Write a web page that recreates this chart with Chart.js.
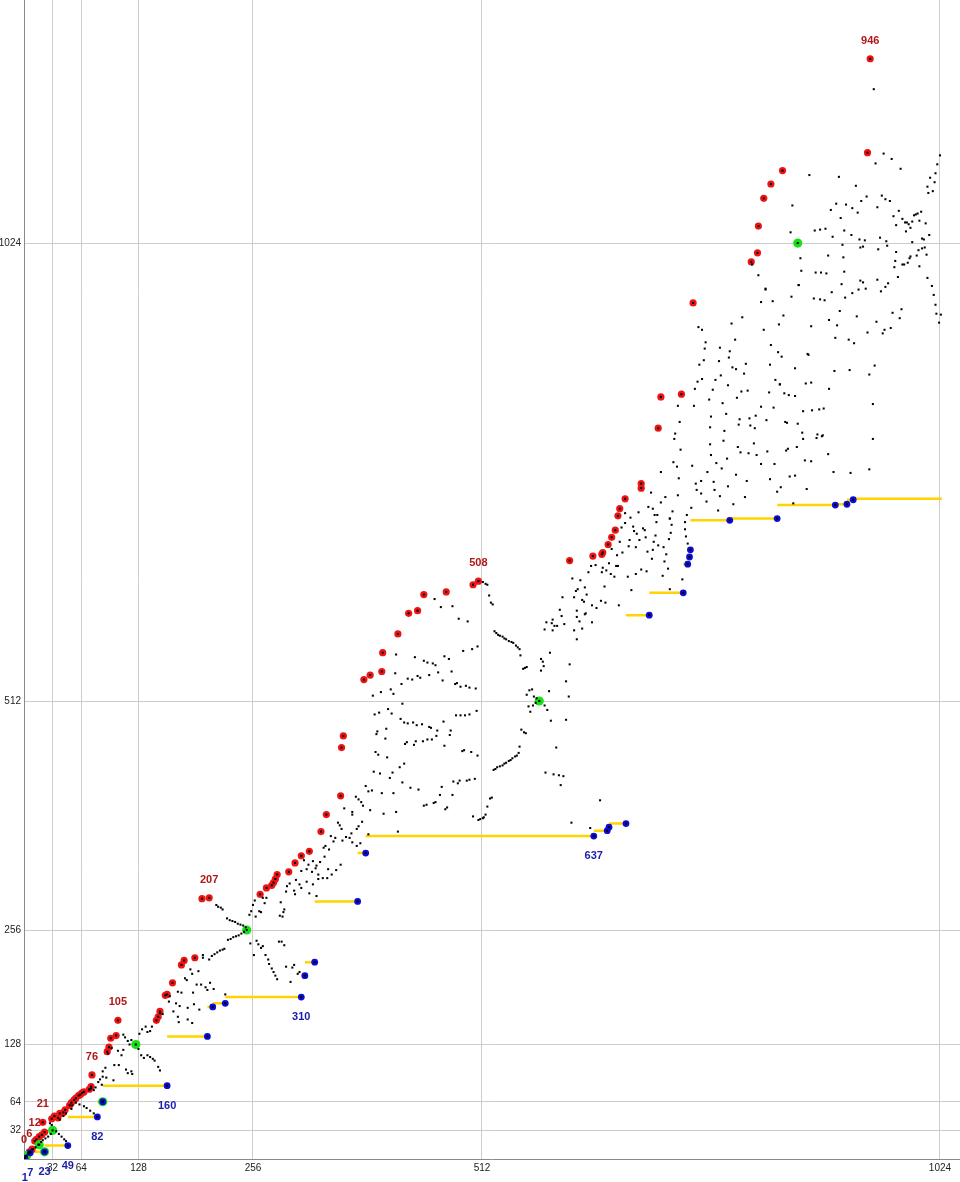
<!DOCTYPE html>
<html>
<head>
<meta charset="utf-8">
<script src="https://cdn.jsdelivr.net/npm/chart.js@4.4.1/dist/chart.umd.min.js"></script>
<style>
  html, body { margin: 0; padding: 0; background: #fff; }
  #wrap { width: 960px; height: 1182px; }
</style>
</head>
<body>
<div id="wrap"><canvas id="chart" width="960" height="1182"></canvas></div>
<script>
const tickValues = [32, 64, 128, 256, 512, 1024];

// labelled points (label = x value)
const redLabels = [0, 6, 12, 21, 76, 105, 207, 508, 946];
const blueLabels = [1, 7, 23, 49, 82, 160, 310, 637];

// red: high points
const redPts = [[0,1],[2,3],[6,8],[9,11],[12,20],[14,22],[17,25],[20,27],[21,41],[23,30],[31,45],[34,48],[38,46],[40,51],[44,52],[46,55],[51,60],[53,63],[56,66],[58,68],[61,71],[63,72],[65,74],[67,75],[73,78],[75,81],[76,94],[93,120],[95,125],[97,135],[103,138],[105,155],[148,155],[150,159],[152,165],[158,183],[160,184],[166,197],[176,217],[179,222],[191,225],[199,291],[207,292],[264,296],[271,303],[277,306],[279,309],[281,313],[283,318],[296,321],[303,331],[310,339],[319,344],[332,366],[338,385],[354,406],[355,460],[357,473],[380,536],[387,541],[400,545],[401,566],[418,587],[430,610],[440,613],[447,631],[472,634],[502,642],[508,646],[610,669],[636,674],[646,676],[647,678],[653,687],[657,695],[661,703],[664,719],[666,727],[672,738],[690,750],[690,755],[709,817],[712,852],[735,855],[748,957],[813,1003],[820,1013],[821,1043],[827,1074],[835,1090],[848,1105],[943,1125],[946,1230]];

// blue: low points
const bluePts = [[1,1],[7,7],[23,8],[49,15],[82,47],[88,64],[160,82],[205,137],[211,170],[225,174],[310,181],[314,205],[325,220],[373,288],[382,342],[637,361],[652,367],[654,371],[673,375],[699,608],[737,633],[742,665],[744,673],[745,681],[789,714],[842,716],[907,731],[920,732],[927,737]];
const yellowEnd = [1026, 738];

// green: values that are powers of two
const greenPts = [[3,4],[17,16],[32,32],[23,8],[88,64],[125,128],[249,256],[576,512],[865,1024]];

// black: all other values
const blackPts = [
[5,6],[7,8],[10,11],[13,13],[16,16],[19,19],[21,21],[24,23],[27,25],[30,28],[29,40],[31,38],[36,31],[39,28],[42,25],[45,22],[47,20],[40,44],[44,48],[47,51],[53,56],[54,60],[58,63],[62,61],[67,59],[70,57],[74,54],[78,51],
[186,212],[188,207],[195,210],[180,202],[182,200],[193,195],[198,195],[203,192],[205,189],[212,190],[208,197],[225,184],[172,187],[176,186],[189,186],[163,182],[162,176],[170,174],[174,171],[183,169],[190,173],[196,167],[167,165],[172,159],[173,153],[183,156],[188,152],[155,162],[152,163],[143,148],[141,143],[138,142],[136,148],[132,145],[129,140],[111,139],[113,136],[116,132],[120,133],[118,128],[128,123],[111,122],[105,121],[98,124],[94,118],[109,116],[131,116],[134,113],[138,116],[141,114],[144,112],[146,110],[150,103],[152,99],[101,105],[106,105],[91,102],[88,98],[114,100],[116,96],[120,98],[121,95],[88,92],[85,89],[83,86],[87,83],[92,91],[100,88],[80,80],[78,77],[73,77],[75,79],
[313,334],[318,329],[323,333],[327,328],[331,332],[310,322],[316,324],[322,321],[326,325],[329,318],[334,314],[340,324],[344,318],[349,323],[354,329],[339,314],[304,312],[308,307],[316,310],[323,307],[329,313],[294,305],[293,299],[302,300],[303,296],[297,308],[327,294],[319,297],[310,303],[287,287],[290,276],[291,279],[286,272],[289,271],[269,286],[271,292],[267,292],[258,289],[256,284],[254,277],[252,273],[259,271],[263,277],[265,276],
[215,284],[217,282],[220,281],[222,279],[227,269],[230,267],[233,266],[236,265],[239,263],[242,262],[245,261],[248,259],[228,245],[231,246],[234,248],[237,249],[240,250],[243,252],[246,254],[213,229],[216,231],[219,233],[222,234],[224,235],[200,228],[200,225],[207,223],[210,227],
[253,241],[260,244],[262,240],[265,236],[267,238],[257,228],[270,228],[273,223],[274,218],[277,213],[279,209],[281,205],[283,201],[285,243],[288,243],[291,239],[293,215],[302,217],[300,214],[306,207],[308,209],[298,198],
[513,645],[516,643],[518,642],[520,630],[522,622],[524,620],[526,590],[528,588],[530,586],[459,626],[466,617],[479,618],[486,604],[496,601],[491,568],[501,570],[507,573],[437,561],[447,557],[451,555],[457,554],[460,552],[470,562],[475,559],[416,564],[463,544],[478,545],[415,543],[422,531],[429,537],[434,536],[440,540],[443,538],[453,541],[468,535],[482,531],[484,532],[488,528],[494,529],[498,527],[505,526],[410,525],[413,520],[399,522],[390,518],[423,509],[407,503],[411,498],[397,499],[392,497],[421,492],[425,488],[429,487],[435,488],[439,485],[445,486],[453,483],[455,482],[462,479],[469,489],[477,479],[476,474],[461,473],[456,469],[451,469],[446,467],[438,467],[436,463],[428,466],[426,464],[405,481],[395,478],[394,475],[404,470],[470,462],[490,456],[492,457],[500,455],[507,451],[483,496],[488,496],[493,496],[498,497],[506,501],[393,455],[396,452],[406,449],[425,442],[420,438],[412,432],[391,433],[398,431],[409,426],[423,421],[432,415],[441,413],[467,416],[480,422],[485,420],[487,423],[495,423],[498,424],[504,425],[389,412],[385,411],[382,417],[400,409],[413,409],[371,405],[374,402],[377,399],[379,395],[358,392],[367,388],[367,385],[387,390],[402,386],[416,388],[447,395],[450,396],[458,398],[460,399],[465,407],[479,407],[471,391],[473,393],[502,383],[508,379],[510,380],[513,381],[514,382],[516,385],[518,394],[521,403],[523,404],[525,435],[527,436],[529,438],[378,377],[374,372],[372,369],[366,364],[364,359],[367,354],[372,350],[376,353],[418,366],[385,363],[351,376],[353,373],[355,369],[343,361],[348,359],[346,355],[360,360],[356,356],[337,350],[335,348],[341,346],[336,338],
[532,585],[535,584],[537,582],[539,581],[542,579],[545,578],[547,577],[550,574],[552,572],[554,570],[555,563],[558,548],[560,549],[562,550],[578,559],[580,556],[581,551],[578,546],[565,524],[568,525],[562,519],[570,517],[573,515],[572,510],[569,507],[564,506],[566,500],[582,507],[585,502],[587,523],[589,490],[556,480],[559,477],[561,476],[554,461],[553,454],[551,451],[549,450],[546,448],[544,446],[542,445],[539,443],[537,442],[535,440],[532,439],[595,460],[583,432],[592,430],[598,429],[603,428],[600,418],[606,491],[609,517],[612,376],[633,370],[644,401],[606,534],[588,566],[610,553],[584,600],[590,599],[591,603],[593,596],[596,596],[591,591],[582,592],
[687,723],[678,717],[672,722],[672,711],[668,706],[681,707],[682,702],[685,699],[688,692],[677,692],[666,690],[676,685],[684,684],[669,678],[663,675],[662,663],[657,682],[654,666],[647,661],[639,664],[634,663],[631,656],[646,656],[651,658],[656,654],[660,651],[664,663],[675,651],[679,636],[684,654],[690,659],[613,649],[622,647],[627,639],[617,635],[619,637],[629,631],[615,628],[624,625],[626,623],[635,619],[640,616],[645,624],[650,622],[649,640],[665,619],[602,628],[599,614],[601,607],[618,613],[628,610],[627,609],[618,606],[621,601],[635,600],[604,598],[615,591],[624,593],[618,581],[692,705],[694,703],[695,695],[697,679],[703,681],[702,671],[704,690],[706,697],[709,686],[715,684],[707,712],[722,716],[724,709],[723,700],[721,693],[718,676],[716,668],[720,660],[714,652],[696,657],[739,712],[739,704],[740,696],[742,688],[736,648],[722,637],
[829,972],[824,958],[837,959],[803,941],[791,934],[754,930],[758,927],[827,927],[844,933],[795,916],[762,913],[761,906],[778,907],[835,910],[789,903],[788,896],[843,902],[760,893],[755,888],[777,892],[807,889],[834,888],[792,885],[796,883],[805,878],[779,876],[758,872],[753,869],[773,871],[840,871],[845,866],[787,865],[750,861],[770,860],[802,858],[809,859],[833,857],[797,851],[766,849],[731,842],[749,842],[781,845],[824,841],[838,840],[768,830],[785,833],[818,831],[800,827],[811,828],[830,826],[733,824],[767,818],[799,821],[812,820],[817,817],[783,814],[728,811],[727,805],[782,803],[816,800],[767,799],[798,796],[801,790],[810,789],[819,787],[831,791],[768,787],[734,793],[726,779],[730,774],[747,775],[774,778],[786,783],[780,772],[824,777],[839,777],[712,768],[732,761],[764,768],[796,765],[757,758],[751,755],[771,757],[808,758],[834,760],[752,748],[772,748],[787,752],[757,744],[731,742],[701,745],[717,740],[778,741],[806,740],[842,746],[712,734],[698,729],[703,727],[746,728],[763,735],[793,732],[725,724],[705,720],[708,720],[722,716],[741,720],[776,725],
[961,1124],[970,1118],[952,1113],[980,1107],[1024,1122],[1021,1112],[1019,1102],[1018,1092],[1013,1097],[1010,1087],[1016,1082],[1011,1080],[878,1100],[911,1098],[930,1088],[942,1076],[959,1077],[963,1073],[968,1071],[936,1071],[908,1068],[919,1067],[926,1063],[932,1058],[902,1061],[913,1052],[954,1064],[978,1060],[972,1054],[975,1044],[982,1051],[985,1047],[987,1047],[989,1045],[993,1048],[995,1055],[997,1056],[999,1057],[1003,1059],[1001,1049],[1008,1046],[991,1041],[986,1037],[1012,1033],[859,1066],[857,1036],[884,1038],[890,1039],[896,1040],[904,1031],[917,1038],[925,1033],[934,1028],[940,1027],[957,1030],[964,1026],[965,1021],[955,1017],[935,1019],[938,1020],[915,1022],[1004,1029],[1006,1028],[993,1025],[1007,1019],[1004,1018],[1000,1016],[998,1010],[991,1009],[990,1007],[988,1002],[984,1000],[982,1000],[1009,1011],[975,1014],[974,1004],[973,997],[977,986],[1001,998],[1010,985],[1015,976],[1017,966],[1019,955],[1020,945],[1023,935],[1025,944],[868,1007],[869,993],[899,1010],[916,1008],[917,992],[885,991],[891,991],[897,990],[866,977],[858,964],[883,962],[890,961],[895,960],[903,969],[914,978],[935,982],[938,980],[941,973],[933,972],[926,968],[918,963],[954,983],[966,979],[963,975],[958,970],[912,948],[900,938],[909,932],[849,943],[880,931],[931,942],[953,936],[943,924],[960,923],[962,927],[969,929],[971,946],[979,940],[981,950],[907,918],[922,916],[928,912],[847,897],[876,900],[877,899],[862,884],[906,881],[923,882],[951,887],[945,877],[845,866],[874,867],[880,868],[900,861],[850,856],[855,854],[862,853],[871,836],[881,837],[889,838],[894,839],[851,824],[853,823],[865,822],[870,812],[871,805],[887,810],[886,806],[892,808],[893,809],[949,844],[949,805],[852,792],[854,794],[864,796],[899,788],[873,781],[880,780],[856,763],[862,764],[905,768],[924,767],[945,771],[846,751],[875,749],[860,733],
[950,1196],[814,1000],[821,988],[829,973],[866,977]
];

const toXY = (p) => ({ x: p[0], y: p[1] });

// every value gets a black mark, coloured marks sit beneath
const blackData = blackPts.concat(redPts, bluePts, greenPts).map(toXY);

// yellow runs from the previous low point to the next one
const yellowData = [];
for (let i = 1; i < bluePts.length; i++) {
    yellowData.push({ x: bluePts[i - 1][0], y: bluePts[i][1] });
    yellowData.push({ x: bluePts[i][0], y: bluePts[i][1] });
    yellowData.push({ x: bluePts[i][0], y: null });
}
const lastBlue = bluePts[bluePts.length - 1];
yellowData.push({ x: lastBlue[0], y: yellowEnd[1] });
yellowData.push({ x: yellowEnd[0], y: yellowEnd[1] });

const pointLabels = {
    id: 'pointLabels',
    afterDatasetsDraw(chart) {
        const ctx = chart.ctx;
        ctx.save();
        ctx.font = 'bold 11px "Liberation Sans", Arial, sans-serif';
        ctx.textAlign = 'center';
        ctx.textBaseline = 'middle';
        const draw = (dsIndex, pts, labels, color, dy) => {
            const meta = chart.getDatasetMeta(dsIndex);
            ctx.fillStyle = color;
            pts.forEach((p, i) => {
                if (labels.includes(p[0])) {
                    const el = meta.data[i];
                    ctx.fillText(String(p[0]), el.x, el.y + dy);
                }
            });
        };
        draw(3, redPts, redLabels, '#b01818', -18);
        draw(1, bluePts, blueLabels, '#1c1ca8', 20);
        ctx.restore();
    }
};

const axisCommon = {
    type: 'linear',
    min: 0,
    afterBuildTicks: (scale) => {
        scale.ticks = tickValues.map(v => ({ value: v }));
    },
    grid: {
        color: '#cdcdcd',
        lineWidth: 1,
        drawTicks: false
    },
    border: {
        color: '#8a8a8a',
        width: 1
    },
    ticks: {
        color: '#222',
        padding: 3,
        autoSkip: false,
        maxRotation: 0,
        font: { size: 10, family: '"Liberation Sans", Arial, sans-serif' },
        callback: (v) => String(v)
    }
};

new Chart(document.getElementById('chart'), {
    type: 'scatter',
    data: {
        datasets: [
            {
                label: 'values',
                data: blackData,
                pointStyle: 'rect',
                pointRadius: 1.45,
                backgroundColor: '#000',
                borderWidth: 0
            },
            {
                label: 'low',
                data: bluePts.map(toXY),
                pointRadius: 3.4,
                backgroundColor: '#0c0cd4',
                borderWidth: 0
            },
            {
                label: 'power of two',
                data: greenPts.map(toXY),
                pointRadius: 4.6,
                backgroundColor: '#18e018',
                borderWidth: 0
            },
            {
                label: 'high',
                data: redPts.map(toXY),
                pointRadius: 3.6,
                backgroundColor: '#ee1414',
                borderWidth: 0
            },
            {
                label: 'runs',
                data: yellowData,
                showLine: true,
                spanGaps: false,
                pointRadius: 0,
                borderColor: '#ffd400',
                borderWidth: 2.5
            }
        ]
    },
    options: {
        responsive: false,
        devicePixelRatio: 1,
        animation: false,
        layout: { padding: 0, autoPadding: false },
        plugins: {
            legend: { display: false },
            tooltip: { enabled: false }
        },
        scales: {
            x: Object.assign({}, axisCommon, {
                max: 1046.4,
                afterFit: (scale) => {
                    scale.height = 23;
                    scale.paddingLeft = 0;
                    scale.paddingRight = 0;
                }
            }),
            y: Object.assign({}, axisCommon, {
                max: 1295.7,
                afterFit: (scale) => {
                    scale.width = 24;
                    scale.paddingTop = 0;
                    scale.paddingBottom = 0;
                }
            })
        }
    },
    plugins: [pointLabels]
});
</script>
</body>
</html>
